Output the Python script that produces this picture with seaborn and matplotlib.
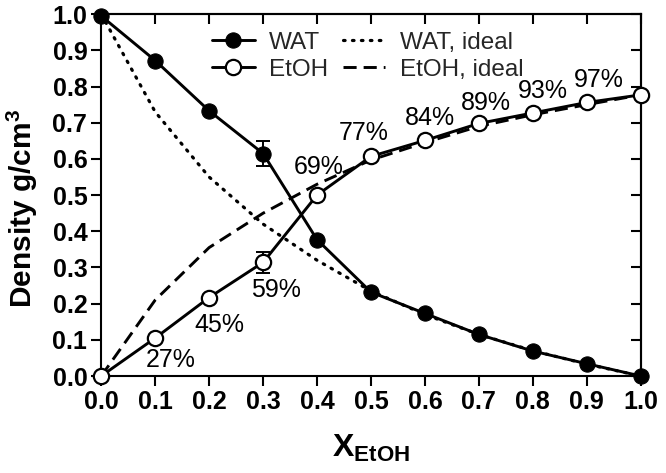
import numpy as np
import pandas as pd
import matplotlib
matplotlib.use("Agg")
import matplotlib.pyplot as plt
import seaborn as sns

# Data
x_etoh = [0.0, 0.1, 0.2, 0.3, 0.4, 0.5, 0.6, 0.7, 0.8, 0.9, 1.0]
wat = [0.995, 0.872, 0.733, 0.615, 0.377, 0.232, 0.173, 0.115, 0.069, 0.034, 0.0]
etoh = [0.0, 0.105, 0.217, 0.314, 0.50, 0.607, 0.651, 0.698, 0.727, 0.756, 0.777]
wat_ideal = [1.0, 0.73, 0.55, 0.42, 0.32, 0.235, 0.17, 0.115, 0.07, 0.033, 0.0]
etoh_ideal = [0.0, 0.21, 0.355, 0.45, 0.53, 0.597, 0.645, 0.69, 0.722, 0.75, 0.777]
wat_err = [0, 0, 0, 0.034, 0, 0, 0, 0, 0, 0, 0]
etoh_err = [0, 0, 0, 0.029, 0, 0, 0, 0, 0, 0, 0]
pct_labels = ["27%", "45%", "59%", "69%", "77%", "84%", "89%", "93%", "97%"]

sns.set_theme(style="ticks")
plt.rcParams['font.family'] = ['Liberation Sans', 'DejaVu Sans']
plt.rcParams['mathtext.fontset'] = 'custom'
plt.rcParams['mathtext.rm'] = 'Liberation Sans'
plt.rcParams['mathtext.bf'] = 'Liberation Sans:bold'

fig = plt.figure(figsize=(6.66, 4.73), dpi=100)
ax = fig.add_axes([0.152, 0.205, 0.810, 0.765])

lw = 2.1
# ideal curves
sns.lineplot(x=x_etoh, y=wat_ideal, ax=ax, color='black', linewidth=2.3,
             linestyle=(0, (0.5, 2.3)), dash_capstyle='round',
             label='WAT, ideal', zorder=2)
sns.lineplot(x=x_etoh, y=etoh_ideal, ax=ax, color='black', linewidth=lw,
             linestyle=(0, (4.5, 2.4)), label='EtOH, ideal', zorder=2)

# measured
sns.lineplot(x=x_etoh, y=wat, ax=ax, color='black', linewidth=lw, marker='o',
             markersize=11, markerfacecolor='black', markeredgecolor='black',
             label='WAT', zorder=3, clip_on=False)
sns.lineplot(x=x_etoh, y=etoh, ax=ax, color='black', linewidth=lw, marker='o',
             markersize=11, markerfacecolor='white', markeredgecolor='black',
             markeredgewidth=1.6, label='EtOH', zorder=4, clip_on=False)

ax.errorbar(x_etoh, wat, yerr=wat_err, fmt='none', ecolor='black',
            elinewidth=1.4, capsize=4.7, capthick=1.4, zorder=3)
ax.errorbar(x_etoh, etoh, yerr=etoh_err, fmt='none', ecolor='black',
            elinewidth=1.4, capsize=4.7, capthick=1.4, zorder=3)

# percentage labels next to the EtOH points
offsets = [(16, -22), (10, -27), (13, -28), (2, 28), (-7, 23),
           (5, 22), (7, 20), (10, 22), (12, 22)]
for i, lab in enumerate(pct_labels):
    ax.annotate(lab, (x_etoh[i + 1], etoh[i + 1]), xytext=offsets[i],
                textcoords='offset pixels', ha='center', va='center',
                fontsize=18, color='black', zorder=5)

ax.set_xlim(0, 1)
ax.set_ylim(0, 1)
ax.set_xticks(np.arange(0, 1.01, 0.1))
ax.set_yticks(np.arange(0, 1.01, 0.1))
ax.set_xticklabels([f"{v:.1f}" for v in np.arange(0, 1.01, 0.1)], fontweight='bold')
ax.set_yticklabels([f"{v:.1f}" for v in np.arange(0, 1.01, 0.1)], fontweight='bold')
ax.tick_params(axis='both', direction='out', length=7, width=1.5,
               labelsize=18, color='black', labelcolor='black', pad=3)

for s in ax.spines.values():
    s.set_visible(True)
    s.set_linewidth(1.5)
    s.set_color('black')

# inward ticks on top and right
top = ax.secondary_xaxis('top')
top.set_xticks(np.arange(0, 1.01, 0.1))
top.tick_params(direction='in', length=7, width=1.5, labeltop=False, color='black')
top.spines['top'].set_linewidth(1.5)
right = ax.secondary_yaxis('right')
right.set_yticks(np.arange(0, 1.01, 0.1))
right.tick_params(direction='in', length=7, width=1.5, labelright=False, color='black')
right.spines['right'].set_linewidth(1.5)

ax.set_xlabel(r'$\mathbf{X_{EtOH}}$', fontsize=23, labelpad=14, color='black')
ax.set_ylabel(r'Density g/cm$^{\mathbf{3}}$', fontsize=21.5, fontweight='bold',
              color='black')
ax.yaxis.set_label_coords(-0.114, 0.464)

handles, labels = ax.get_legend_handles_labels()
order = [labels.index(k) for k in ['WAT', 'EtOH', 'WAT, ideal', 'EtOH, ideal']]
ax.legend([handles[i] for i in order], [labels[i] for i in order], ncol=2,
          frameon=False, loc='upper left', bbox_to_anchor=(0.183, 0.985),
          fontsize=17.5, handlelength=1.75, handletextpad=0.6,
          columnspacing=0.6, labelspacing=0.2, borderpad=0)

plt.savefig('out.png', dpi=100)
